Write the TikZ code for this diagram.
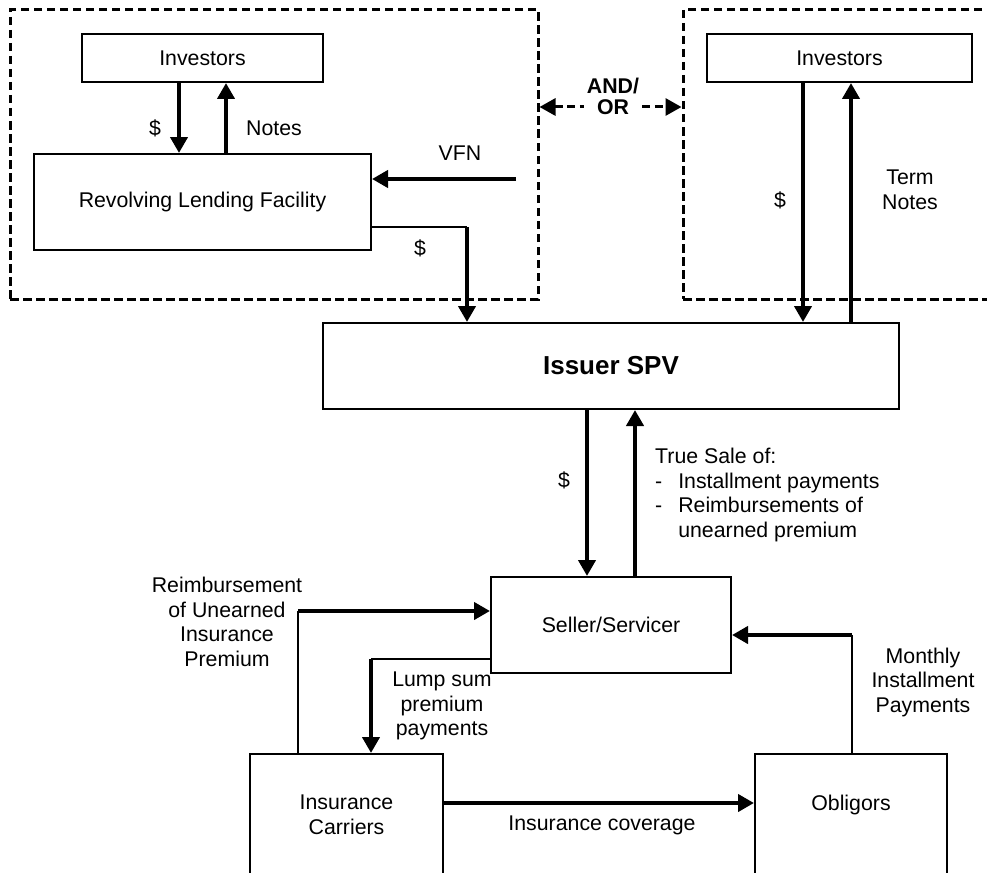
\documentclass[tikz,border=0pt]{standalone}
\usepackage{fontspec}
\setmainfont{Liberation Sans}
\usepackage{tikz}
\usetikzlibrary{arrows.meta,positioning}
\tikzstyle{entity} = [draw, line width=2pt, rectangle, inner sep=0pt, align=center, font=\fontsize{21.3}{24.5}\selectfont]
\tikzstyle{groupbox} = [draw, line width=3pt, dash pattern=on 8.5pt off 4.5pt, rectangle, inner sep=0pt]
\tikzstyle{flow} = [line width=4pt, -{Triangle[width=17pt,length=16pt]}]
\tikzstyle{link} = [line width=2pt]
\tikzstyle{tag} = [align=center, inner sep=0pt, font=\fontsize{21.3}{24.5}\selectfont]

\begin{document}
\begin{tikzpicture}[x=1pt,y=-1pt]
	\clip (0,0) rectangle (987,872);
	\node[groupbox, minimum width=528pt, minimum height=289pt] (leftgroup) at (274,154.5) {};
	\node[groupbox, minimum width=330pt, minimum height=289pt] (rightgroup) at (848,154.5) {};
	\node[entity, minimum width=241pt, minimum height=48pt] (inv1) at (202.5,58) {Investors};
	\node[entity, minimum width=337pt, minimum height=96pt] (rlf) at (202.5,202) {Revolving Lending Facility};
	\node[entity, minimum width=265pt, minimum height=48pt] (inv2) at (839.5,58) {Investors};
	\node[entity, minimum width=576pt, minimum height=86pt, font=\fontsize{26}{30}\selectfont\bfseries] (spv) at (611,366) {Issuer SPV};
	\node[entity, minimum width=240pt, minimum height=96pt] (seller) at (611,625) {Seller/Servicer};
	\node[entity, minimum width=193pt, minimum height=122pt] (carriers) at (346.5,815) {Insurance\\Carriers};
	\node[entity, minimum width=192pt, minimum height=122pt] (obligors) at (851,815) {Obligors\\\mbox{}};
	\draw[flow] ([xshift=-23.5pt]inv1.south) -- ([xshift=-23.5pt]rlf.north);
	\draw[flow] ([xshift=23.5pt]rlf.north) -- ([xshift=23.5pt]inv1.south);
	\coordinate (vfn) at (516,179);
	\draw[flow] (vfn) -- (vfn -| rlf.east);
	\coordinate (rlfbend) at (467,227);
	\draw[link] (rlfbend -| rlf.east) -- (rlfbend);
	\draw[flow] (rlfbend) -- (rlfbend |- spv.north);
	\coordinate (andor) at (613,107);
	\draw[line width=3pt, dash pattern=on 8pt off 4.5pt, {Triangle[width=17pt,length=16pt]}-{Triangle[width=17pt,length=16pt]}] (andor -| leftgroup.east) -- (andor -| rightgroup.west);
	\coordinate (cash2) at ([xshift=-36.5pt]inv2.south);
	\coordinate (terms) at ([xshift=11.5pt]inv2.south);
	\draw[flow] (cash2) -- (cash2 |- spv.north);
	\draw[flow] (terms |- spv.north) -- (terms);
	\draw[flow] ([xshift=-24pt]spv.south) -- ([xshift=-24pt]seller.north);
	\draw[flow] ([xshift=24pt]seller.north) -- ([xshift=24pt]spv.south);
	\coordinate (reimb) at (298,611);
	\draw[link] (reimb |- carriers.north) -- (reimb);
	\draw[flow] (reimb) -- (reimb -| seller.west);
	\coordinate (lump) at (371,659);
	\draw[link] (lump -| seller.west) -- (lump);
	\draw[flow] (lump) -- (lump |- carriers.north);
	\coordinate (monthly) at (852,635);
	\draw[link] (monthly |- obligors.north) -- (monthly);
	\draw[flow] (monthly) -- (monthly -| seller.east);
	\coordinate (cover) at (600,803);
	\draw[flow] (cover -| carriers.east) -- (cover -| obligors.west);
	\node[tag] (cash1) at (155,128) {\$};
	\node[tag] (notes) at (274,128) {Notes};
	\node[tag] (vfnlabel) at (460,153) {VFN};
	\node[tag] (cash3) at (420,248) {\$};
	\node[tag, fill=white, inner xsep=3pt, font=\fontsize{21.3}{21}\selectfont\bfseries] (andorlabel) at (613,96) {AND/\\OR};
	\node[tag] (cash4) at (780,200) {\$};
	\node[tag] (termnotes) at (910,190) {Term\\Notes};
	\node[tag] (cash5) at (564,480) {\$};
	\node[tag, anchor=base west] (truesale) at (655,463.5) {\begin{tabular}[t]{@{}l@{\hspace{16pt}}l@{}}
		\multicolumn{2}{@{}l@{}}{True Sale of:}\\
		- & Installment payments\\
		- & Reimbursements of\\
		 & unearned premium
	\end{tabular}};
	\node[tag] (reimblabel) at (227,622) {Reimbursement\\of Unearned\\Insurance\\Premium};
	\node[tag] (lumplabel) at (442,706) {Lump sum\\premium\\payments};
	\node[tag] (monthlylabel) at (923,682) {Monthly\\Installment\\Payments};
	\node[tag] (coverlabel) at (602,825) {Insurance coverage};
\end{tikzpicture}
\end{document}
